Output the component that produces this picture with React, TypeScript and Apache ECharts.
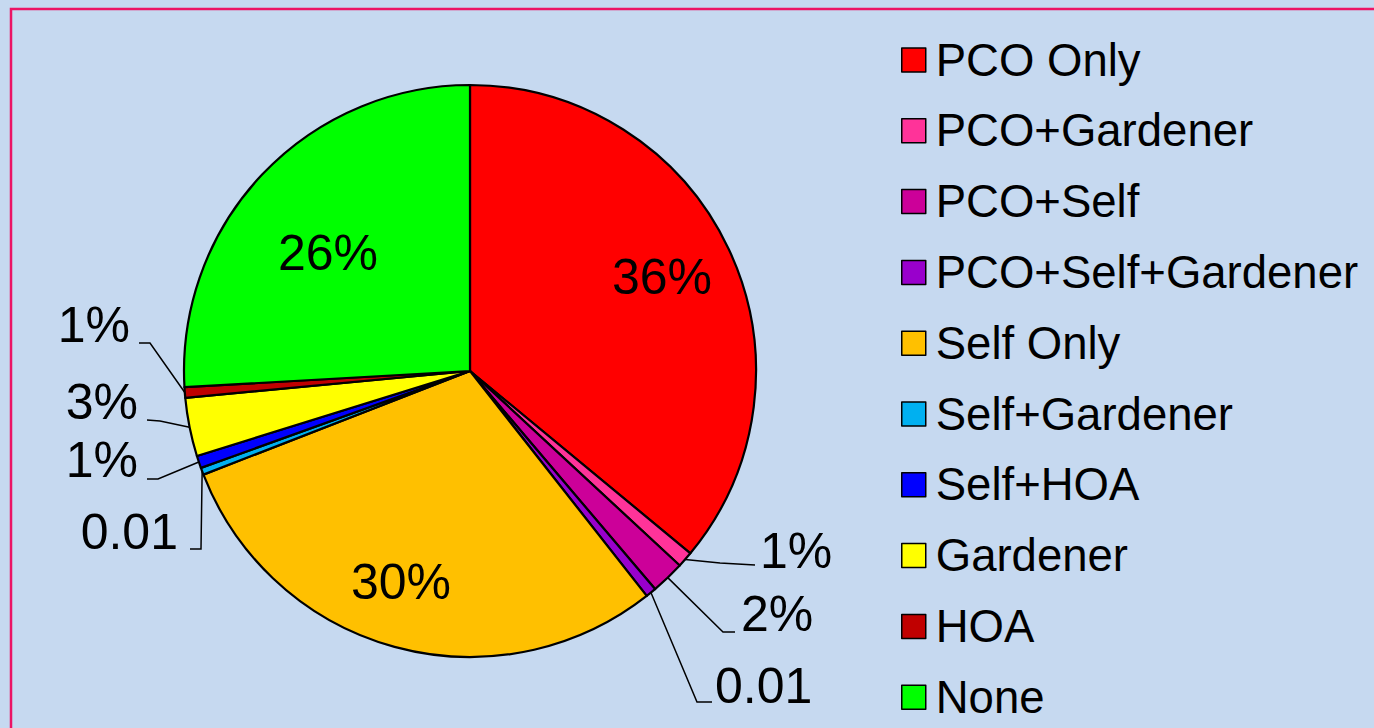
import React, { useEffect, useRef } from 'react';
import * as echarts from 'echarts';

const categories = [
  'PCO Only',
  'PCO+Gardener',
  'PCO+Self',
  'PCO+Self+Gardener',
  'Self Only',
  'Self+Gardener',
  'Self+HOA',
  'Gardener',
  'HOA',
  'None',
];
const shares = [36.0, 0.9, 1.9, 0.6, 29.7, 0.4, 0.7, 3.3, 0.6, 25.9];
const labelTexts = ['36%', '1%', '2%', '0.01', '30%', '0.01', '1%', '3%', '1%', '26%'];
const colors = [
  '#FF0000',
  '#FF3399',
  '#CC0099',
  '#9900CC',
  '#FFC000',
  '#00B0F0',
  '#0000FF',
  '#FFFF00',
  '#C00000',
  '#00FF00',
];

// layout (pixels, relative to the pie centre)
const CX = 470;
const CY = 371;
const R = 286;
type Placement = {
  inside?: boolean;
  at: number[];
  align?: string;
  elbow?: number[];
  end?: number[];
};
const labelPlacement: Placement[] = [
  { inside: true, at: [192, -94] },
  { at: [290, 180], align: 'left', elbow: [250, 192], end: [285, 194] },
  { at: [271, 243], align: 'left', elbow: [253, 261], end: [265, 261] },
  { at: [245, 315], align: 'left', elbow: [227, 331], end: [242, 331] },
  { inside: true, at: [-69, 211] },
  { at: [-292, 161], align: 'right', elbow: [-269, 178], end: [-280, 178] },
  { at: [-332, 89], align: 'right', elbow: [-312, 108], end: [-323, 108] },
  { at: [-332, 31], align: 'right', elbow: [-310, 50], end: [-323, 49] },
  { at: [-340, -46], align: 'right', elbow: [-320, -28], end: [-331, -28] },
  { inside: true, at: [-142, -118] },
];

const FONT = '"Liberation Sans", Arial, Helvetica, sans-serif';

export default function App() {
  const ref = useRef<HTMLDivElement>(null);
  useEffect(() => {
    document.body.style.margin = '0';
    if (!ref.current) return;
    const chart = echarts.init(ref.current, null, { renderer: 'svg' });
    const total = shares.reduce((a, b) => a + b, 0);
    const mids: number[] = [];
    let acc = 0;
    shares.forEach((v) => {
      const a0 = (acc / total) * 360;
      acc += v;
      const a1 = (acc / total) * 360;
      mids.push((a0 + a1) / 2);
    });

    const data = categories.map((name, i) => {
      const pl = labelPlacement[i];
      return {
        name,
        value: shares[i],
        itemStyle: { color: colors[i] },
        label: {
          show: true,
          position: pl.inside ? 'inside' : 'outside',
          formatter: () => labelTexts[i],
        },
        labelLine: { show: !pl.inside },
      };
    });

    chart.setOption({
      animation: false,
      backgroundColor: '#C6D9F0',
      graphic: [
        {
          type: 'rect',
          shape: { x: 11, y: 9, width: 1420, height: 800 },
          style: { fill: 'none', stroke: '#EC1464', lineWidth: 2.5 },
          silent: true,
        },
      ],
      legend: {
        orient: 'vertical',
        left: 901,
        top: 35,
        padding: 0,
        itemWidth: 24,
        itemHeight: 24,
        itemGap: 20.8,
        icon: 'rect',
        selectedMode: false,
        itemStyle: { borderColor: '#000', borderWidth: 1.5 },
        textStyle: {
          fontFamily: FONT,
          fontSize: 45.5,
          lineHeight: 50,
          color: '#000',
          padding: [0, 0, 0, 5],
        },
        data: categories,
      },
      series: [
        {
          type: 'pie',
          center: [CX, CY],
          radius: R,
          startAngle: 90,
          clockwise: true,
          avoidLabelOverlap: false,
          minShowLabelAngle: 0,
          itemStyle: { borderColor: '#000', borderWidth: 2.2 },
          label: {
            fontFamily: FONT,
            fontSize: 50,
            color: '#000',
          },
          labelLine: {
            lineStyle: { color: '#000', width: 1.5 },
          },
          emphasis: { disabled: true },
          labelLayout: (p: any) => {
            const i = p.dataIndex;
            const pl = labelPlacement[i];
            if (pl.inside) {
              return {
                x: CX + pl.at[0],
                y: CY + pl.at[1],
                align: 'center',
                verticalAlign: 'middle',
              };
            }
            const a = (mids[i] * Math.PI) / 180;
            const anchor = [CX + R * Math.sin(a), CY - R * Math.cos(a)];
            return {
              x: CX + pl.at[0],
              y: CY + pl.at[1],
              align: pl.align,
              verticalAlign: 'middle',
              labelLinePoints: [
                anchor,
                [CX + pl.elbow![0], CY + pl.elbow![1]],
                [CX + pl.end![0], CY + pl.end![1]],
              ],
            };
          },
          data,
        },
      ],
    });
    return () => chart.dispose();
  }, []);
  return <div ref={ref} style={{ width: 1374, height: 728 }} />;
}
